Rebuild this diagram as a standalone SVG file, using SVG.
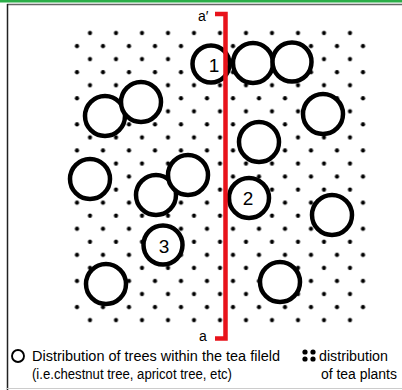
<svg xmlns="http://www.w3.org/2000/svg" width="402" height="390" viewBox="0 0 402 390">
  <style>
    .tree { fill: #ffffff; stroke: #000000; stroke-width: 4.5; }
    .num { font-family: "Liberation Sans", Arial, sans-serif; font-size: 19px; fill: #000000; text-anchor: middle; }
    .lbl { font-family: "Liberation Sans", Arial, sans-serif; font-size: 15.5px; fill: #000000; }
    .sec { font-family: "Liberation Sans", Arial, sans-serif; font-size: 14px; fill: #000000; }
  </style>
  <defs>
    <!-- staggered tea-plant dot grid: 26px across, 13.05px between rows -->
    <pattern id="teaDots" patternUnits="userSpaceOnUse" x="70.5" y="26.475" width="26" height="26.1">
      <circle cx="19.5" cy="6.525" r="2.1" fill="#000"/>
      <circle cx="6.5" cy="19.575" r="2.1" fill="#000"/>
    </pattern>
  </defs>

  <!-- frame -->
  <rect x="0" y="0" width="402" height="390" fill="#ffffff"/>
  <rect x="0" y="0" width="402" height="2.5" fill="#2aae48"/>
  <line x1="7" y1="4.5" x2="402" y2="4.5" stroke="#666666" stroke-width="1.5"/>
  <line x1="7.5" y1="4" x2="7.5" y2="390" stroke="#222222" stroke-width="1.5"/>
  <line x1="7" y1="388.5" x2="402" y2="388.5" stroke="#cccccc" stroke-width="1"/>

  <!-- tea plants -->
  <rect id="tea-field" x="72" y="29" width="296" height="295" fill="url(#teaDots)"/>

  <!-- trees -->
  <g id="tree-1"><circle class="tree" cx="211" cy="64" r="18.5"/><text class="num" x="214" y="72">1</text></g>
  <g id="tree-b"><circle class="tree" cx="253" cy="63" r="20"/></g>
  <g id="tree-c"><circle class="tree" cx="292" cy="62" r="19.5"/></g>
  <g id="tree-d"><circle class="tree" cx="105" cy="116" r="20"/></g>
  <g id="tree-e"><circle class="tree" cx="141" cy="102" r="20"/></g>
  <g id="tree-f"><circle class="tree" cx="323" cy="114" r="20"/></g>
  <g id="tree-g"><circle class="tree" cx="259" cy="142" r="20"/></g>
  <g id="tree-h"><circle class="tree" cx="90" cy="179" r="20"/></g>
  <g id="tree-i"><circle class="tree" cx="156" cy="195" r="20"/></g>
  <g id="tree-j"><circle class="tree" cx="188" cy="175" r="20"/></g>
  <g id="tree-2"><circle class="tree" cx="249" cy="198" r="20"/><text class="num" x="248" y="205">2</text></g>
  <g id="tree-k"><circle class="tree" cx="332" cy="215" r="20"/></g>
  <g id="tree-3"><circle class="tree" cx="163" cy="245" r="19.5"/><text class="num" x="164" y="253">3</text></g>
  <g id="tree-l"><circle class="tree" cx="106" cy="284" r="20"/></g>
  <g id="tree-m"><circle class="tree" cx="280" cy="282" r="20"/></g>

  <!-- section line a'-a -->
  <g id="connectors">
    <path d="M215,14 H225.5 V338.5 H215" fill="none" stroke="#e8131b" stroke-width="4.5"/>
  </g>
  <g id="section-labels">
    <text class="sec" x="198" y="21">a′</text>
    <text class="sec" x="199" y="341">a</text>
  </g>

  <!-- legend -->
  <g id="legend-trees">
    <circle cx="18" cy="356" r="6" fill="none" stroke="#000" stroke-width="1.9"/>
    <text class="lbl" x="32" y="361" textLength="248" lengthAdjust="spacingAndGlyphs">Distribution of trees within the tea fileld</text>
    <text class="lbl" x="32" y="379" textLength="200" lengthAdjust="spacingAndGlyphs">(i.e.chestnut tree, apricot tree, etc)</text>
  </g>
  <g id="legend-tea">
    <circle cx="305" cy="352" r="2.6" fill="#000"/>
    <circle cx="313" cy="352" r="2.6" fill="#000"/>
    <circle cx="305" cy="359" r="2.6" fill="#000"/>
    <circle cx="313" cy="359" r="2.6" fill="#000"/>
    <text class="lbl" x="319" y="361" textLength="69" lengthAdjust="spacingAndGlyphs">distribution</text>
    <text class="lbl" transform="translate(321,379) scale(0.9,1)">of tea plants</text>
  </g>
</svg>
